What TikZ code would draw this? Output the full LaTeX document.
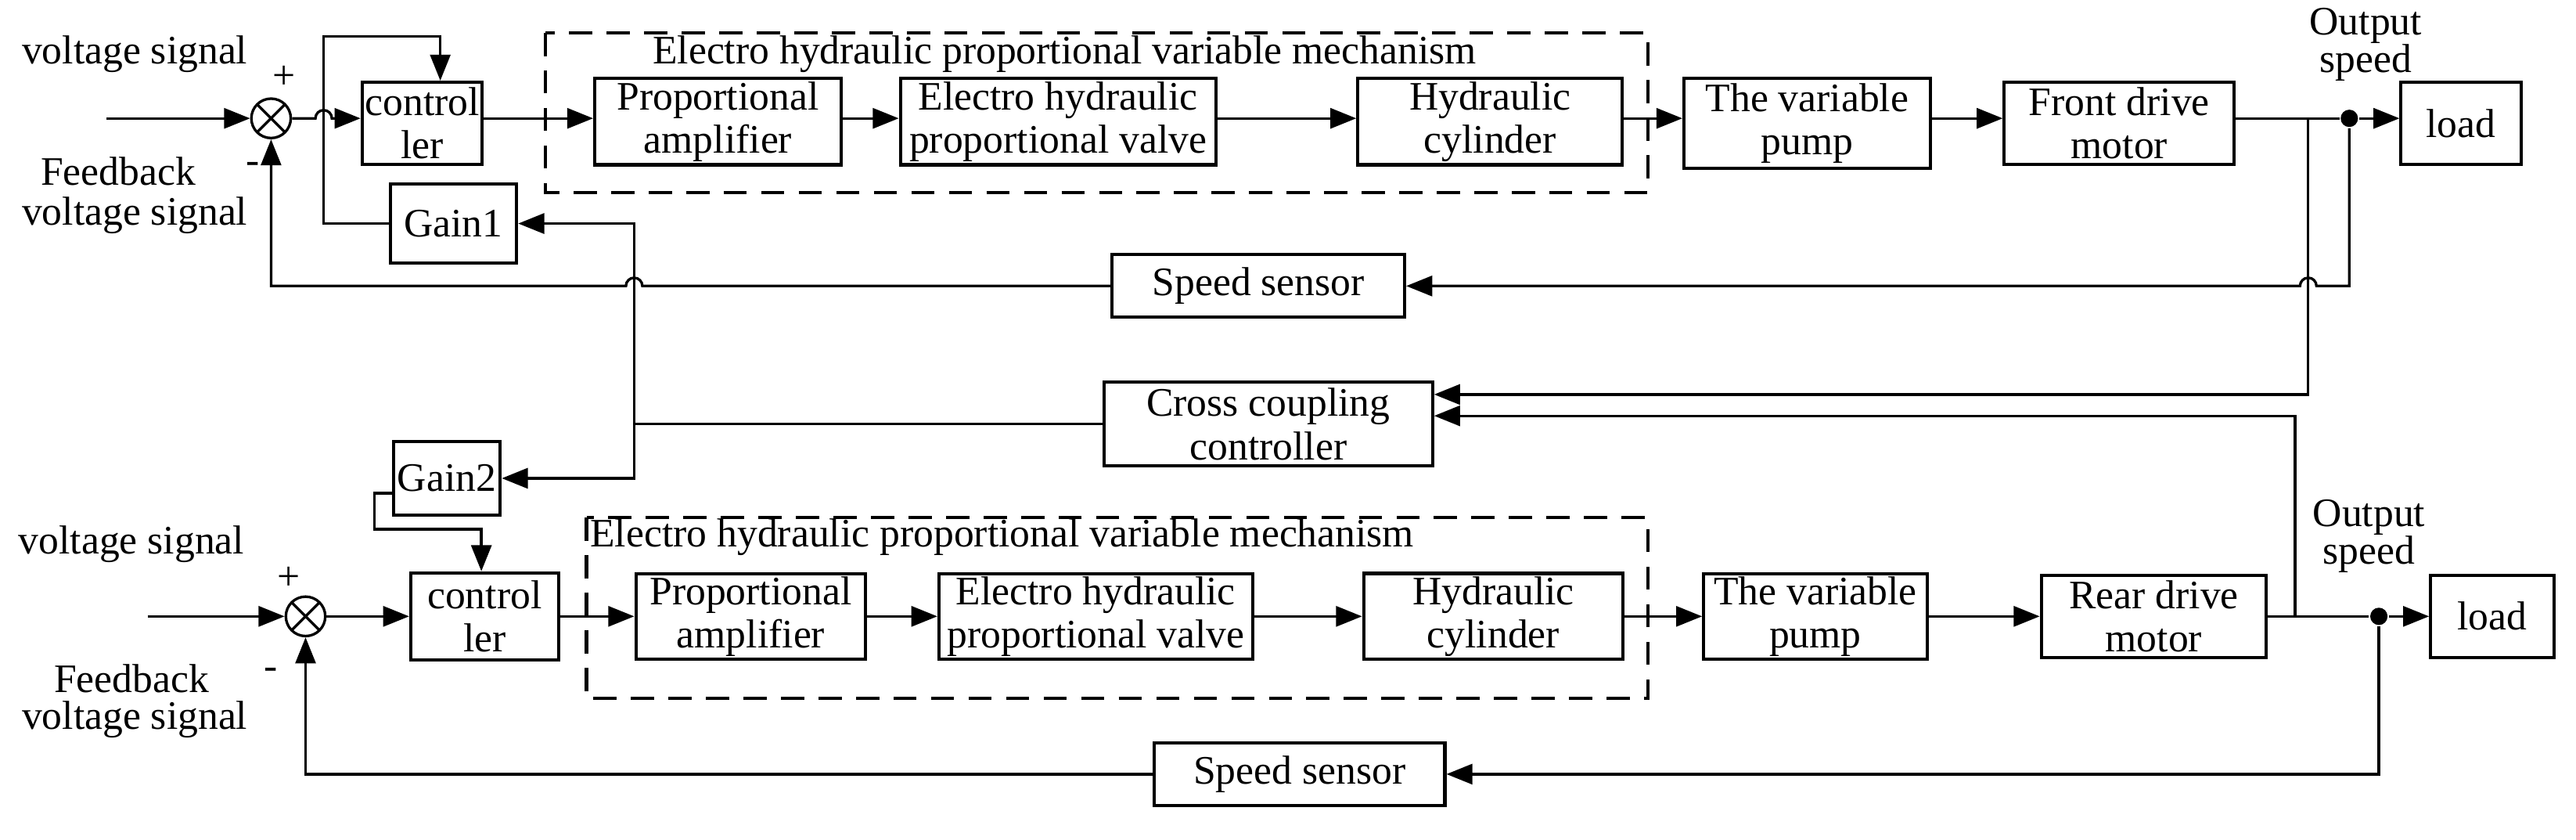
\documentclass[tikz,border=0pt]{standalone}
\usepackage{fontspec}
\setmainfont{Liberation Serif}
\usetikzlibrary{arrows.meta}
\begin{document}
\begin{tikzpicture}[x=0.02cm,y=-0.02cm,
  line width=0.9pt,
  every node/.style={font=\fontsize{14}{15}\selectfont},
  blk/.style={draw,line width=1.1pt,align=center,inner sep=1pt},
  sum/.style={draw,circle,minimum size=0.48cm,inner sep=0pt,path picture={\draw (path picture bounding box.north west)--(path picture bounding box.south east) (path picture bounding box.north east)--(path picture bounding box.south west);}},
  ar/.style={-{Triangle[length=9pt,width=7pt]}},
  dsh/.style={draw,dashed,dash pattern=on 8pt off 5pt,line width=1.1pt},
  dot/.style={circle,fill,inner sep=0pt,minimum size=6pt}]
\useasboundingbox (0,0) rectangle (1568,511);
% ---------- top row ----------
\node[sum] (s1) at (165,72) {};
\coordinate (in1) at (65,72);
\node (vs1) at (82,33) {voltage signal};
\node at (173,47) {+};
\node (fb1) at (72,104) {Feedback};
\node at (154,102) {-};
\node (fv1) at (82,131) {voltage signal};
\node[blk,minimum width=1.3cm,minimum height=1.0cm] (c1) at (257,75) {control\\ler};
\node[blk,minimum width=3.0cm,minimum height=1.05cm] (pa1) at (437,74) {Proportional\\amplifier};
\node[blk,minimum width=3.84cm,minimum height=1.05cm] (v1) at (644,74) {Electro hydraulic\\proportional valve};
\node[blk,minimum width=3.22cm,minimum height=1.05cm] (cy1) at (907,74) {Hydraulic\\cylinder};
\node[blk,minimum width=3.0cm,minimum height=1.1cm] (p1) at (1100,75) {The variable\\pump};
\node[blk,minimum width=2.8cm,minimum height=1.0cm] (m1) at (1290,75) {Front drive\\motor};
\node[blk,minimum width=1.46cm,minimum height=1.0cm] (l1) at (1498,75) {load};
\node[align=center] (os1) at (1440,27) {Output\\[-2pt]speed};
\node[dot] (d1) at (1430,72) {};
\node[blk,minimum width=1.54cm,minimum height=0.96cm] (g1) at (276,136) {Gain1};
\node[blk,minimum width=3.56cm,minimum height=0.76cm] (ss1) at (766,174) {Speed sensor};
\draw[dsh] (332,20) rectangle (1003,117);
\node (t1) at (648,33) {Electro hydraulic proportional variable mechanism};
% ---------- middle ----------
\node[blk,minimum width=4.0cm,minimum height=1.02cm] (cc) at (772,258) {Cross coupling\\controller};
\node[blk,minimum width=1.3cm,minimum height=0.9cm] (g2) at (272,291) {Gain2};
% ---------- bottom row ----------
\node[sum] (s2) at (186,375) {};
\coordinate (in2) at (90,375);
\node at (80,331) {voltage signal};
\node at (176,352) {+};
\node at (80,413) {Feedback};
\node at (165,410) {-};
\node at (82,438) {voltage signal};
\node[blk,minimum width=1.8cm,minimum height=1.06cm] (c2) at (295,375) {control\\ler};
\node[blk,minimum width=2.8cm,minimum height=1.0cm] (pa2) at (457,375) {Proportional\\amplifier};
\node[blk,minimum width=3.82cm,minimum height=1.0cm] (v2) at (667,375) {Electro hydraulic\\proportional valve};
\node[blk,minimum width=3.16cm,minimum height=1.0cm] (cy2) at (909,375) {Hydraulic\\cylinder};
\node[blk,minimum width=2.72cm,minimum height=1.0cm] (p2) at (1105,375) {The variable\\pump};
\node[blk,minimum width=2.74cm,minimum height=1.0cm] (m2) at (1311,375) {Rear drive\\motor};
\node[blk,minimum width=1.5cm,minimum height=1.0cm] (l2) at (1517,375) {load};
\node[align=center] (os2) at (1442,326) {Output\\[-2pt]speed};
\node[dot] (d2) at (1448,375) {};
\node[blk,minimum width=3.54cm,minimum height=0.76cm] (ss2) at (791,471) {Speed sensor};
\draw[dsh] (357,315) rectangle (1003,425);
\node (t2) at (610,327) {Electro hydraulic proportional variable mechanism};
% ---------- top connectors ----------
\draw[ar] (in1) -- (s1.west);
\draw[ar] (s1.east) -- (192,72) arc (180:0:0.1cm) -- (c1.west |- 0,72);
\draw[ar] (g1.west) -- (197,136) -- (197,22) -- (268,22) -- (c1.north -| 268,0);
\draw[ar] (c1.east |- 0,72) -- (pa1.west |- 0,72);
\draw[ar] (pa1.east |- 0,72) -- (v1.west |- 0,72);
\draw[ar] (v1.east |- 0,72) -- (cy1.west |- 0,72);
\draw[ar] (cy1.east |- 0,72) -- (p1.west |- 0,72);
\draw[ar] (p1.east |- 0,72) -- (m1.west |- 0,72);
\draw (m1.east |- 0,72) -- (d1);
\draw[ar] (d1) -- (l1.west |- 0,72);
\draw[ar] (d1) -- (1430,174) -- (1410,174) arc (0:180:0.1cm) -- (ss1.east);
\draw[ar] (ss1.west) -- (391,174) arc (0:180:0.1cm) -- (165,174) -- (s1.south);
\draw[ar] (1405,72) -- (1405,240) -- (cc.east |- 0,240);
% ---------- middle connectors ----------
\draw (cc.west) -- (386,258);
\draw[ar] (386,258) -- (386,136) -- (g1.east);
\draw[ar] (386,258) -- (386,291) -- (g2.east);
\draw[ar] (g2.west |- 0,300) -- (228,300) -- (228,322) -- (293,322) -- (c2.north -| 293,0);
\draw[ar] (1397,375) -- (1397,253) -- (cc.east |- 0,253);
% ---------- bottom connectors ----------
\draw[ar] (in2) -- (s2.west);
\draw[ar] (s2.east) -- (c2.west);
\draw[ar] (c2.east) -- (pa2.west);
\draw[ar] (pa2.east) -- (v2.west);
\draw[ar] (v2.east) -- (cy2.west);
\draw[ar] (cy2.east) -- (p2.west);
\draw[ar] (p2.east) -- (m2.west);
\draw (m2.east) -- (d2);
\draw[ar] (d2) -- (l2.west);
\draw[ar] (d2) -- (1448,471) -- (ss2.east);
\draw[ar] (ss2.west) -- (186,471) -- (s2.south);
\end{tikzpicture}
\end{document}
